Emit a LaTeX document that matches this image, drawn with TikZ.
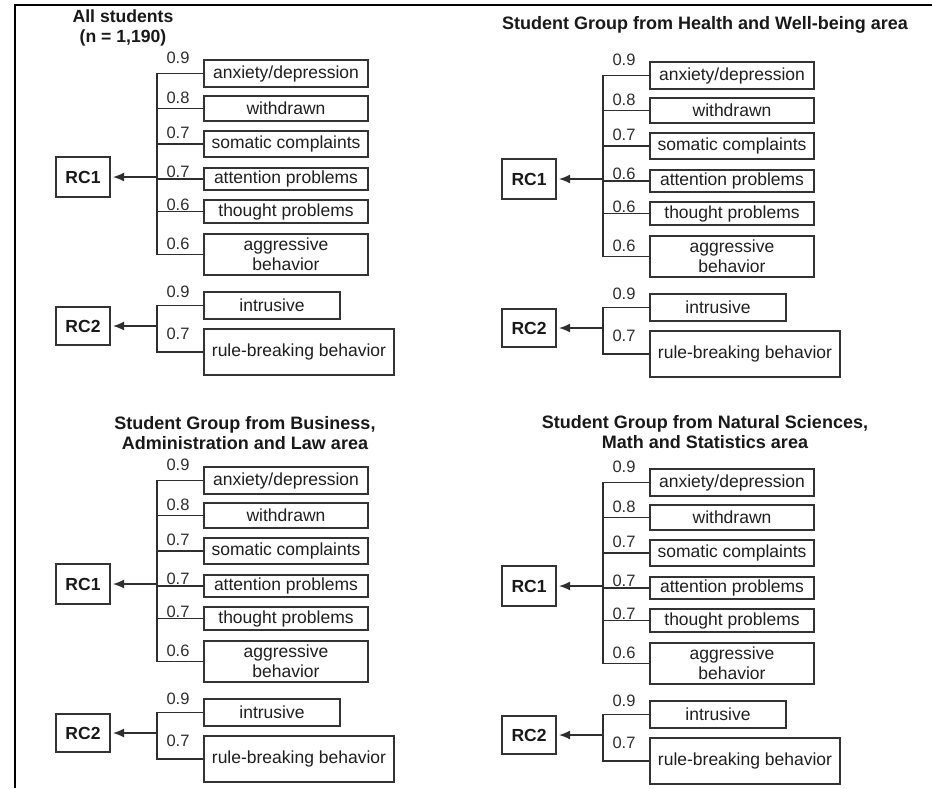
\documentclass[tikz,border=0pt]{standalone}
\usepackage{fontspec}
\setmainfont{Liberation Sans}
\usetikzlibrary{arrows.meta}
\tikzset{
  item/.style={draw=black!80, line width=1.3pt, inner sep=0pt, text=black!88,
    font=\fontsize{17.5}{20}\selectfont, align=center},
  rcbox/.style={draw=black!80, line width=1.3pt, inner sep=0pt, text=black!90,
    font=\bfseries\fontsize{17.5}{20}\selectfont, minimum width=54pt, minimum height=40pt},
  load/.style={font=\fontsize{16.5}{18}\selectfont, text=black!82, inner sep=0pt},
  wire/.style={draw=black!82, line width=1.1pt},
  tip/.style={-{Latex[length=11pt,width=9pt]}, shorten >=2.5pt},
  title/.style={font=\bfseries\fontsize{18}{20}\selectfont, align=center, inner sep=0pt, text=black!90},
  frameline/.style={line width=2pt, black}
}
\newcommand\drawpanel[9]{%
  \node[item, minimum width=164pt, minimum height=27pt] (#1a) at (286,73.5) {anxiety/depression};
  \node[item, minimum width=164pt, minimum height=25pt] (#1b) at (286,108.5) {withdrawn};
  \node[item, minimum width=164pt, minimum height=26pt] (#1c) at (286,144) {somatic complaints};
  \node[item, minimum width=164pt, minimum height=22pt] (#1d) at (286,179) {attention problems};
  \node[item, minimum width=164pt, minimum height=23pt] (#1e) at (286,211.5) {thought problems};
  \node[item, minimum width=164pt, minimum height=41pt] (#1f) at (286,254.5) {aggressive\\behavior};
  \node[rcbox] (#1r) at (83,177) {RC1};
  \node[item, minimum width=136pt, minimum height=27pt] (#1g) at (272,305.5) {intrusive};
  \node[item, minimum width=190pt, minimum height=46pt] (#1h) at (299,352) {rule-breaking behavior};
  \node[rcbox, minimum height=38pt] (#1s) at (83,326) {RC2};
  \coordinate (#1k) at (157,177);
  \coordinate (#1m) at (157,326);
  \draw[wire] (#1a.west) -| (#1k) |- (#1f.west);
  \draw[wire] (#1k |- #1b.west) -- (#1b.west);
  \draw[wire] (#1k |- #1c.west) -- (#1c.west);
  \draw[wire] (#1k |- #1d.west) -- (#1d.west);
  \draw[wire] (#1k |- #1e.west) -- (#1e.west);
  \draw[wire, tip] (#1k) -- (#1r.east);
  \draw[wire] (#1g.west) -| (#1m) |- (#1h.west);
  \draw[wire, tip] (#1m) -- (#1s.east);
  \node[load] (#1la) at (178,58) {#2};
  \node[load] (#1lb) at (178,98) {#3};
  \node[load] (#1lc) at (178,133) {#4};
  \node[load] (#1ld) at (178,172) {#5};
  \node[load] (#1le) at (178,205) {#6};
  \node[load] (#1lf) at (178,244) {#7};
  \node[load] (#1lg) at (178,292) {#8};
  \node[load] (#1lh) at (178,334) {#9};
}
\begin{document}
\begin{tikzpicture}[x=1pt, y=-1pt]
  \useasboundingbox (0,0) rectangle (932,788);
  \fill[white] (0,0) rectangle (932,788);
  \coordinate (fA) at (15,788);
  \coordinate (fB) at (15,5);
  \coordinate (fC) at (932,5);
  \draw[frameline] (fA) -- (fB) -- (fC);

  \node[title, font=\bfseries\fontsize{17.6}{20}\selectfont] (t1) at (123,28) {All students\\(n = 1,190)};
  \node[title] (t2) at (705,25) {Student Group from Health and Well-being area};
  \node[title] (t3) at (245,433) {Student Group from Business,\\Administration and Law area};
  \node[title] (t4) at (705,432) {Student Group from Natural Sciences,\\Math and Statistics area};

  \begin{scope}
    \drawpanel{p}{0.9}{0.8}{0.7}{0.7}{0.6}{0.6}{0.9}{0.7}
  \end{scope}
  \begin{scope}[shift={(446,2)}]
    \drawpanel{q}{0.9}{0.8}{0.7}{0.6}{0.6}{0.6}{0.9}{0.7}
  \end{scope}
  \begin{scope}[shift={(0,407)}]
    \drawpanel{u}{0.9}{0.8}{0.7}{0.7}{0.7}{0.6}{0.9}{0.7}
  \end{scope}
  \begin{scope}[shift={(446,409)}]
    \drawpanel{v}{0.9}{0.8}{0.7}{0.7}{0.7}{0.6}{0.9}{0.7}
  \end{scope}
\end{tikzpicture}
\end{document}
